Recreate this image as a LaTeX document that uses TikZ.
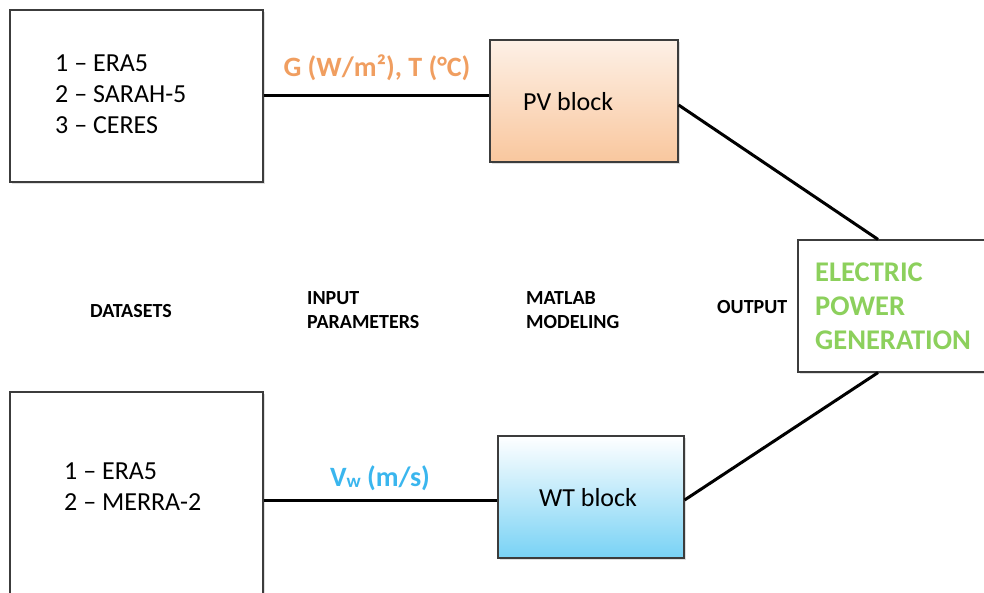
\documentclass[tikz,border=0pt]{standalone}
\usepackage{fontspec}
\setmainfont{Carlito}
\usetikzlibrary{positioning}
\usetikzlibrary{shadows}
\usetikzlibrary{calc}

\definecolor{pvtop}{RGB}{253,240,230}
\definecolor{pvbot}{RGB}{249,199,158}
\definecolor{wttop}{RGB}{255,255,255}
\definecolor{wtbot}{RGB}{120,210,245}
\definecolor{pvtext}{RGB}{240,158,96}
\definecolor{wttext}{RGB}{58,182,238}
\definecolor{pgtext}{RGB}{140,208,92}
\definecolor{boxline}{RGB}{60,60,60}

\tikzset{
  box/.style={draw=boxline, line width=1.2pt, fill=white, inner sep=0pt,
    drop shadow={opacity=0.25, shadow xshift=2pt, shadow yshift=-2pt}},
  wire/.style={line width=3pt, black},
  bodytext/.style={font=\fontsize{26}{31}\selectfont, align=left, inner sep=0pt},
  steptext/.style={font=\fontsize{20}{24}\selectfont\bfseries, align=left, anchor=west, inner sep=0pt},
}

\begin{document}
\begin{tikzpicture}[x=1pt, y=-1pt]
    \useasboundingbox (0,0) rectangle (984,592);

    % datasets
    \node[box, minimum width=253pt, minimum height=172pt] (ds1) at (136.5,96) {};
    \node[bodytext, anchor=west] (ds1t) at (55,94) {1 -- ERA5\\2 -- SARAH-5\\3 -- CERES};
    \node[box, minimum width=253pt, minimum height=220pt] (ds2) at (136.5,502) {};
    \node[bodytext, anchor=west] (ds2t) at (64,487) {1 -- ERA5\\2 -- MERRA-2};

    % blocks
    \node[box, minimum width=188pt, minimum height=122pt,
      top color=pvtop, bottom color=pvbot] (pv) at (584,101) {};
    \node[bodytext, anchor=west] (pvt) at (523,102) {PV block};
    \node[box, minimum width=186pt, minimum height=122pt,
      top color=wttop, bottom color=wtbot] (wt) at (591,497) {};
    \node[bodytext, anchor=west] (wtt) at (539,498) {WT block};

    % output
    \node[box, minimum width=188pt, minimum height=132pt] (pg) at (892,306) {};
    \node[font=\fontsize{28.5}{34}\selectfont\bfseries, text=pgtext, align=left, anchor=west, inner sep=0pt]
      (pgt) at (815,306) {ELECTRIC\\POWER\\GENERATION};

    % connectors
    \draw[wire] (ds1.east |- 0,95) -- (pv.west |- 0,95);
    \draw[wire] (ds2.east |- 0,500) -- (wt.west |- 0,500);
    \draw[wire] (pv.east |- 0,105) -- ([xshift=-14pt]pg.north);
    \draw[wire] (wt.east |- 0,500) -- ([xshift=-14pt]pg.south);

    % parameters
    \node[font=\fontsize{28}{30}\selectfont\bfseries, text=pvtext] (gt) at (377,68)
      {G (W/m²), T (°C)};
    \node[font=\fontsize{28}{30}\selectfont\bfseries, text=wttext] (vw) at (380,478)
      {V\raisebox{-1pt}{\fontsize{19}{19}\selectfont w} (m/s)};

    % stages
    \node[font=\fontsize{20}{24}\selectfont\bfseries] (lds) at (131,311) {DATASETS};
    \node[steptext] (lin) at (307,310) {INPUT\\PARAMETERS};
    \node[steptext] (lml) at (526,310) {MATLAB\\MODELING};
    \node[steptext] (lout) at (717,307) {OUTPUT};
\end{tikzpicture}
\end{document}
